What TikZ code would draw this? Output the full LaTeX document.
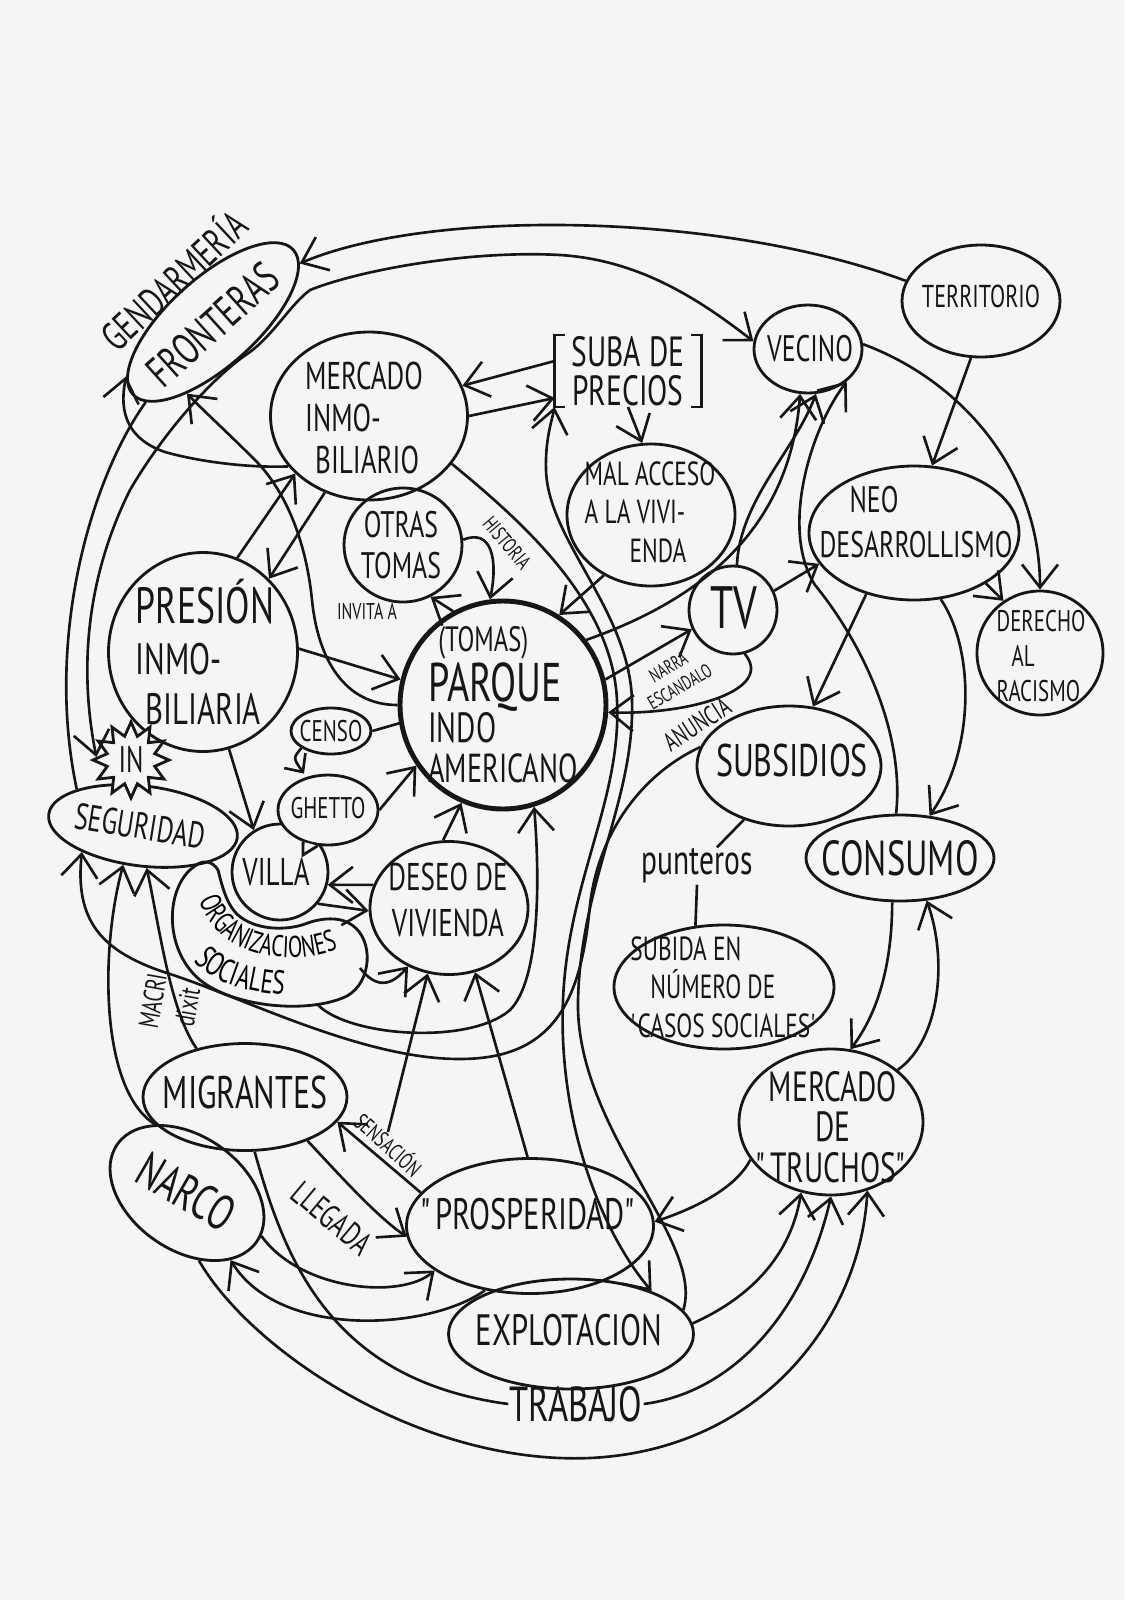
\documentclass[tikz,border=0pt]{standalone}
\usepackage{fontspec}
\setmainfont{PT Sans}[FakeStretch=0.7]
\usepackage{xcolor}
\usetikzlibrary{shapes.geometric,arrows.meta,decorations.text}

\definecolor{paper}{RGB}{245,245,245}
\definecolor{ink}{RGB}{22,22,22}

\begin{document}
\begin{tikzpicture}[x=0.1mm, y=-0.1mm, color=ink, line width=0.8pt,
  bubble/.style={ellipse, draw, inner sep=0pt},
  txt/.style={inner sep=0pt, align=center},
  conn/.style={line width=0.75pt},
  arr/.style={-{Straight Barb[length=2.3mm,width=3.6mm]}},
  arrsm/.style={-{Straight Barb[length=1.4mm,width=2.6mm]}},
  arrs/.style={{Straight Barb[length=2.3mm,width=3.6mm]}-{Straight Barb[length=2.3mm,width=3.6mm]}}]

\fill[paper] (0,0) rectangle (1124,1600);
\useasboundingbox (0,0) rectangle (1124,1600);

% top row
\node[bubble, rotate=42, minimum width=21.6mm, minimum height=8.8mm] (front) at (213,322) {};
\node[txt, rotate=42, font=\fontsize{12.5}{12.5}\selectfont] (frontT) at (213,325) {FRONTERAS};
\node[txt, rotate=43, font=\fontsize{11.5}{11.5}\selectfont] (gend) at (172,279) {GENDARMERÍA};
\node[bubble, minimum width=19.7mm, minimum height=16.8mm] (merc) at (369,416) {};
\node[txt, align=left, font=\fontsize{11}{12}\selectfont] (mercT) at (364,418) {MERCADO\\INMO-\\\hspace*{1mm}BILIARIO};
\node[txt, minimum width=14.4mm, minimum height=6.7mm, font=\fontsize{12}{11}\selectfont] (suba) at (628,371) {SUBA DE\\PRECIOS};
\draw ([xshift=1mm]suba.north west) -- (suba.north west) -- (suba.south west) -- ([xshift=1mm]suba.south west);
\draw ([xshift=-1mm]suba.north east) -- (suba.north east) -- (suba.south east) -- ([xshift=-1mm]suba.south east);
\node[bubble, minimum width=10.8mm, minimum height=8.8mm] (vec) at (808,349) {};
\node[txt, font=\fontsize{10.5}{10.5}\selectfont] (vecT) at (810,349) {VECINO};
\node[bubble, minimum width=15.8mm, minimum height=11.2mm] (terr) at (981,301) {};
\node[txt, font=\fontsize{9}{9}\selectfont] (terrT) at (981,296) {TERRITORIO};

% middle
\node[bubble, minimum width=16.8mm, minimum height=14.2mm] (mal) at (651,515) {};
\node[txt, align=left, font=\fontsize{9.5}{11}\selectfont] (malT) at (650,512) {MAL ACCESO\\A LA VIVI-\\\hspace*{4.5mm}ENDA};
\node[bubble, minimum width=21mm, minimum height=13.4mm] (neo) at (914,533) {};
\node[txt, align=left, font=\fontsize{10.5}{13}\selectfont] (neoT) at (916,522) {\hspace*{3mm}NEO\\DESARROLLISMO};
\node[bubble, minimum width=12.6mm, minimum height=12.4mm] (derecho) at (1040,653) {};
\node[txt, align=left, font=\fontsize{8.5}{10}\selectfont] (derechoT) at (1041,656) {DERECHO\\\hspace*{1.5mm}AL\\RACISMO};
\node[bubble, minimum size=8.8mm] (tv) at (733,610) {};
\node[txt, font=\fontsize{17}{17}\selectfont] (tvT) at (734,608) {TV};
\node[bubble, minimum width=11.8mm, minimum height=11.4mm] (otras) at (403,545) {};
\node[txt, font=\fontsize{10.5}{11.5}\selectfont] (otrasT) at (401,545) {OTRAS\\TOMAS};
\node[bubble, minimum width=18.9mm, minimum height=19.9mm] (presion) at (203,652) {};
\node[txt, align=left, font=\fontsize{12.5}{14.5}\selectfont] (presionT) at (205,652) {{\fontsize{14.5}{14.5}\selectfont PRESIÓN}\\INMO-\\\hspace*{1mm}BILIARIA};
\node[bubble, line width=1.4pt, minimum width=20.6mm, minimum height=20.8mm] (parque) at (503,705) {};
\node[txt, align=left, font=\fontsize{12}{11.5}\selectfont] (parqueT) at (503,705) {\hspace*{1mm}{\fontsize{10}{10}\selectfont(TOMAS)}\\{\fontsize{15.5}{15.5}\selectfont PARQUE}\\INDO\\{\fontsize{11.5}{11.5}\selectfont AMERICANO}};
\node[bubble, minimum width=18.4mm, minimum height=12mm] (subs) at (789,766) {};
\node[txt, font=\fontsize{13}{13}\selectfont] (subsT) at (792,760) {SUBSIDIOS};
\node[bubble, minimum width=8mm, minimum height=4.6mm] (censo) at (331,731) {};
\node[txt, font=\fontsize{8.5}{8.5}\selectfont] (censoT) at (331,731) {CENSO};
\node[bubble, rotate=-7, minimum width=19mm, minimum height=8mm] (seg) at (143,826) {};
\node[txt, rotate=-9, font=\fontsize{10.5}{10.5}\selectfont] (segT) at (140,826) {SEGURIDAD};
\node[star, star points=12, star point ratio=1.55, draw, fill=paper, inner sep=0pt, minimum size=7.6mm, font=\fontsize{10.5}{10.5}\selectfont] (inStar) at (131,760) {IN};
\node[bubble, minimum size=9.6mm] (villa) at (280,872) {};
\node[txt, font=\fontsize{11}{11}\selectfont] (villaT) at (276,872) {VILLA};
% ghetto speech bubble over the villa
\node[bubble, fill=paper, minimum width=10mm, minimum height=7mm] (ghetto) at (328,810) {};
\fill[paper] (ghetto.232) -- (303,855) -- (ghetto.254) -- cycle;
\draw (ghetto.232) -- (303,855) -- (ghetto.254);
\node[txt, font=\fontsize{8.5}{8.5}\selectfont] (ghettoT) at (328,808) {GHETTO};
\node[bubble, minimum width=15.8mm, minimum height=13.3mm] (deseo) at (449,908) {};
\node[txt, font=\fontsize{11}{13}\selectfont] (deseoT) at (448,900) {DESEO DE\\VIVIENDA};
\node[bubble, minimum width=18.8mm, minimum height=8.6mm] (cons) at (900,858) {};
\node[txt, font=\fontsize{14}{14}\selectfont] (consT) at (900,858) {CONSUMO};
\node[txt, font=\fontsize{12}{12}\selectfont] (punt) at (697,866) {punteros};
\node[bubble, minimum width=22mm, minimum height=12.4mm] (subida) at (724,987) {};
\node[txt, align=left, font=\fontsize{9.5}{11}\selectfont] (subidaT) at (724,987) {SUBIDA EN\\\hspace*{2mm}NÚMERO DE\\\textquotesingle CASOS SOCIALES\textquotesingle};

% organizaciones sociales, wrapped round the villa
\draw (195,866) .. controls (166,885) and (162,948) .. (200,980) .. controls (235,1008) and (310,1014) .. (347,996) .. controls (372,982) and (374,940) .. (352,925) .. controls (340,916) and (320,918) .. (305,924) .. controls (285,931) and (255,930) .. (238,915) .. controls (226,904) and (222,885) .. (218,870) .. controls (212,860) and (202,860) .. cycle;
\path[decorate, decoration={text along path, text align=center, text={|\fontsize{8.5}{8.5}\selectfont|ORGANIZACIONES}}] (193,872) .. controls (197,920) and (225,952) .. (280,957) .. controls (318,960) and (345,948) .. (364,936);
\path[decorate, decoration={text along path, text align=center, text={|\fontsize{9.5}{9.5}\selectfont|SOCIALES}}] (176,928) .. controls (188,978) and (240,999) .. (322,995);
\coordinate (orgE) at (360,968);
\coordinate (orgS) at (318,1005);

% bottom
\node[bubble, minimum width=18.4mm, minimum height=14.6mm] (truch) at (831,1122) {};
\node[txt, font=\fontsize{12}{11.5}\selectfont] (truchT) at (833,1127) {MERCADO\\DE\\\textquotedbl TRUCHOS\textquotedbl};
\node[bubble, minimum width=20.4mm, minimum height=10.7mm] (migr) at (245,1097) {};
\node[txt, font=\fontsize{13}{13}\selectfont] (migrT) at (245,1092) {MIGRANTES};
\node[bubble, rotate=-35, minimum width=17mm, minimum height=11.4mm] (narco) at (187,1193) {};
\node[txt, rotate=-30, font=\fontsize{14}{14}\selectfont] (narcoT) at (186,1192) {NARCO};
\node[bubble, minimum width=24.7mm, minimum height=13.5mm] (prosp) at (530,1226) {};
\node[txt, font=\fontsize{12.5}{12.5}\selectfont] (prospT) at (530,1214) {\textquotedbl PROSPERIDAD\textquotedbl};
\node[bubble, minimum width=24.5mm, minimum height=11mm] (expl) at (571,1334) {};
\node[txt, font=\fontsize{12.5}{12.5}\selectfont] (explT) at (569,1330) {EXPLOTACION};
\node[txt, font=\fontsize{14}{14}\selectfont] (trab) at (576,1404) {TRABAJO};
\coordinate (sensTop) at (388,1132);

% small labels
\node[txt, font=\fontsize{6.5}{6.5}\selectfont] (invita) at (367,611) {INVITA A};
\node[txt, rotate=-50, font=\fontsize{6}{6}\selectfont] (histo) at (507,543) {HISTORIA};
\node[txt, rotate=30, font=\fontsize{5.5}{6.5}\selectfont] (narra) at (674,677) {NARRA\\ESCANDALO};
\node[txt, rotate=33, font=\fontsize{7.5}{7.5}\selectfont] (anun) at (697,724) {ANUNCIA};
\node[txt, rotate=-42, font=\fontsize{6.5}{6.5}\selectfont] (sens) at (389,1144) {SENSACIÓN};
\node[txt, rotate=-40, font=\fontsize{9.5}{9.5}\selectfont] (lleg) at (332,1218) {LLEGADA};
\node[txt, rotate=80, font=\fontsize{8}{10}\selectfont] (macri) at (170,1004) {MACRI\\dixit};

% top arcs
\draw[conn, arr] (terr.165) .. controls (720,212) and (430,208) .. (front.-8);
\draw[conn, arrs] (inStar.175) .. controls (75,650) and (95,560) .. (130,490) .. controls (165,430) and (215,375) .. (250,352) .. controls (275,333) and (290,305) .. (310,290) .. controls (360,270) and (470,250) .. (560,255) .. controls (640,260) and (700,300) .. (vec.172);
\draw[conn] (front.188) .. controls (90,480) and (45,640) .. (seg.158);
\draw[conn, arr] (merc.212) .. controls (250,468) and (200,462) .. (165,452) .. controls (130,440) and (118,415) .. (front.170);
\draw[conn, arr] (parque.180) .. controls (345,705) and (318,660) .. (312,600) .. controls (306,540) and (285,490) .. (255,460) .. controls (230,435) and (205,412) .. (front.208);

% mercado, suba, mal acceso
\draw[conn, arr] ([yshift=1mm]suba.west) -- (merc.18);
\draw[conn, arr] (merc.0) -- ([yshift=-2.7mm]suba.west);
\draw[conn, arr] (suba.south) -- (mal.97);
\draw[conn, arr] (mal.232) -- (parque.58);
\draw[conn, arr] (presion.70) -- (merc.218);
\draw[conn, arr] (merc.240) -- (presion.48);

% long lines down the middle
\draw[conn, arr] (merc.-30) .. controls (520,520) and (612,600) .. (617,700) .. controls (622,800) and (568,880) .. (563,1000) .. controls (558,1120) and (600,1230) .. (expl.28);
\draw[conn, arr] (expl.12) .. controls (705,1240) and (575,1130) .. (578,1000) .. controls (581,880) and (635,800) .. (632,700) .. controls (629,610) and (548,540) .. (546,470) .. controls (545,440) and (552,420) .. (suba.south west);
\draw[conn, arr] (subs.168) .. controls (640,775) and (598,835) .. (590,905) .. controls (582,990) and (560,1050) .. (480,1058) .. controls (380,1068) and (250,1000) .. (170,974) .. controls (100,952) and (75,920) .. (seg.-150);

% around the parque
\draw[conn, arr] (otras.5) .. controls (492,528) and (498,560) .. (parque.97);
\draw[conn, arr] (parque.118) -- (otras.-62);
\draw[conn, arr] (presion.2) -- (parque.166);
\draw[conn, arr] (presion.-75) -- (villa.122);
\draw[conn] (censo.east) -- (parque.190);
\draw[conn, arrsm] (censo.210) .. controls (293,758) .. ([xshift=-2.4mm]ghetto.north);
\draw[conn, arr] (ghetto.east) -- (parque.215);
\draw[conn, arr] (deseo.163) -- (villa.-15);
\draw[conn, arr] (villa.-40) -- (deseo.182);
\draw[conn, arr] (deseo.95) -- (parque.247);
\draw[conn, arr] (orgE) .. controls (377,990) and (392,985) .. (deseo.235);
\draw[conn, arr] (orgS) .. controls (350,1037) and (470,1045) .. (510,1010) .. controls (540,980) and (540,880) .. (parque.287);

% tv and right side
\draw[conn, arr] (parque.14) -- (tv.205);
\draw[conn, arr] (tv.-75) .. controls (775,690) and (690,715) .. (parque.-4);
\draw[conn, arr] (parque.38) .. controls (700,600) and (790,530) .. (vec.-100);
\draw[conn, arr] (tv.85) .. controls (740,500) and (795,450) .. (vec.-80);
\draw[conn, arr] (tv.25) -- (neo.198);
\draw[conn, arr] (terr.-100) -- (neo.75);
\draw[conn, arr] (vec.5) .. controls (960,380) and (1040,470) .. (derecho.90);
\draw[conn, arr] (neo.-35) -- (derecho.125);
\draw[conn, arr] (neo.-68) .. controls (975,650) and (975,750) .. (cons.55);
\draw[conn, arr] (neo.-128) -- (subs.68);
\draw[conn, arr] (cons.95) .. controls (905,730) and (860,640) .. (815,585) .. controls (780,530) and (810,430) .. (vec.-40);
\draw[conn] (subs.-130) -- ([xshift=2mm]punt.north);
\draw[conn] (punt.south) -- (subida.115);
\draw[conn, arr] (cons.-100) .. controls (892,960) and (880,1010) .. (truch.75);
\draw[conn, arr] (truch.38) .. controls (940,1040) and (948,960) .. (cons.-58);

% migrantes, narco, seguridad
\draw[conn, arr] (migr.135) .. controls (170,1010) and (160,930) .. (seg.-78);
\draw[conn, arr] (narco.150) .. controls (100,1090) and (100,950) .. (seg.-110);
\draw[conn, arr] (migr.-35) .. controls (335,1170) and (375,1215) .. (prosp.185);
\draw[conn, arr] (prosp.163) -- (migr.-15);
\draw[conn, arr] (sensTop) -- (deseo.252);
\draw[conn, arr] (prosp.92) -- (deseo.292);
\draw[conn, arr] (narco.5) .. controls (300,1290) and (400,1300) .. (prosp.205);
\draw[conn, arr] (prosp.235) .. controls (430,1330) and (280,1340) .. (narco.-22);

% trabajo and mercado de truchos
\draw[conn, arr] (narco.-45) .. controls (250,1350) and (420,1465) .. (590,1458) .. controls (760,1450) and (860,1320) .. (truch.-62);
\draw[conn] (migr.-80) .. controls (285,1260) and (330,1380) .. (trab.west);
\draw[conn, arr] (trab.east) .. controls (735,1392) and (805,1310) .. (truch.-90);
\draw[conn, arr] (expl.5) .. controls (745,1300) and (790,1260) .. (truch.-113);
\draw[conn, arr] (truch.205) .. controls (735,1190) and (690,1210) .. (prosp.2);

\end{tikzpicture}
\end{document}
